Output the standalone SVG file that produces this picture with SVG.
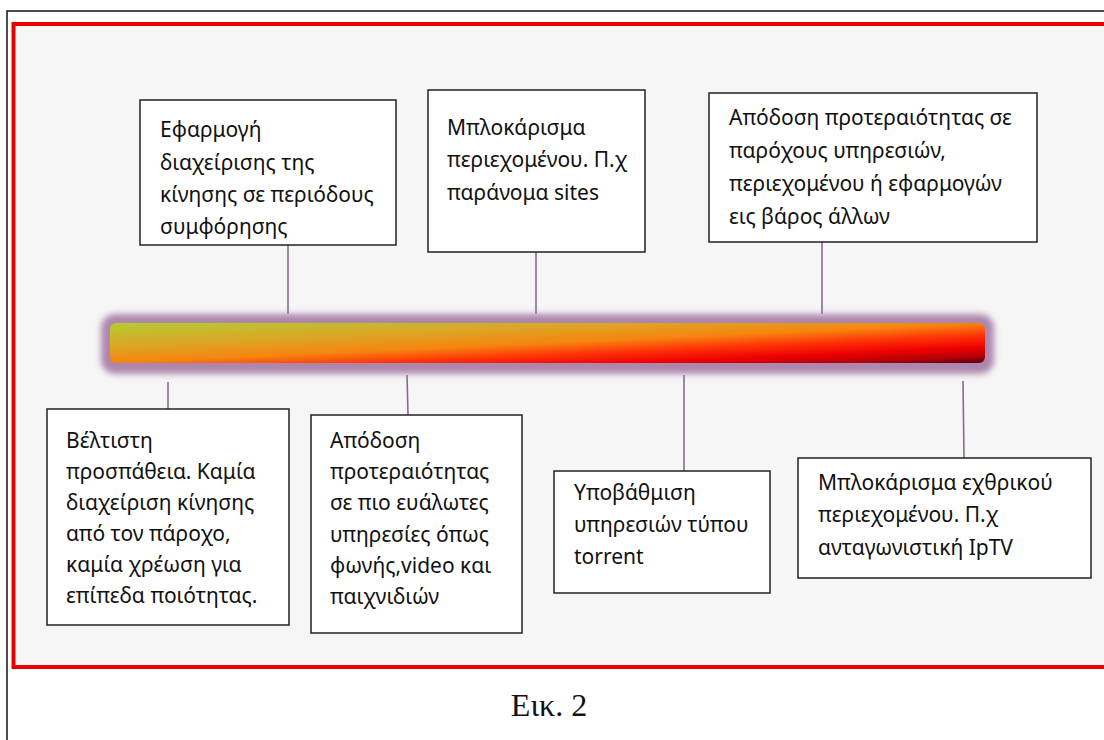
<svg xmlns="http://www.w3.org/2000/svg" width="1104" height="740" viewBox="0 0 1104 740">
<style>
.box{fill:#ffffff;stroke:#222222;stroke-width:1.5}
.t{font-family:"Noto Sans","Open Sans","DejaVu Sans",sans-serif;font-size:21px;fill:#111111}
.cap{font-family:"Liberation Serif","Times New Roman",serif;font-size:32px;fill:#111111}
.conn{stroke:#8c6a8c;stroke-width:1.6;fill:none}
</style>
<defs>
<linearGradient id="bar" x1="0" y1="0" x2="1" y2="1">
<stop offset="0" stop-color="#b4cc30"/>
<stop offset="0.3" stop-color="#dca526"/>
<stop offset="0.5" stop-color="#f6850f"/>
<stop offset="0.65" stop-color="#ff3408"/>
<stop offset="0.8" stop-color="#ee0000"/>
<stop offset="0.92" stop-color="#b00008"/>
<stop offset="1" stop-color="#500010"/>
</linearGradient>
<filter id="glow" x="-5%" y="-50%" width="110%" height="200%">
<feGaussianBlur stdDeviation="3"/>
</filter>
</defs>
<rect x="0" y="0" width="1104" height="740" fill="#ffffff"/>
<rect x="7" y="11" width="1110" height="740" fill="none" stroke="#111111" stroke-width="1.5"/>
<rect x="13.5" y="24" width="1100" height="643" fill="#f6f6f6" stroke="#e80000" stroke-width="4"/>

<g id="connectors">
<line class="conn" x1="288" y1="245" x2="288" y2="314"/>
<line class="conn" x1="536" y1="252" x2="536" y2="314"/>
<line class="conn" x1="822" y1="242" x2="822" y2="314"/>
<line class="conn" x1="168" y1="382" x2="168" y2="409"/>
<line class="conn" x1="407" y1="375" x2="408" y2="415"/>
<line class="conn" x1="684" y1="375" x2="684" y2="471"/>
<line class="conn" x1="963" y1="381" x2="964" y2="458"/>
</g>

<g id="bar-scale">
<rect x="101" y="314" width="893" height="60" rx="14" fill="#ad86ae" filter="url(#glow)"/>
<rect x="110" y="323" width="875" height="40" rx="6" fill="url(#bar)"/>
</g>

<g id="node-congestion">
<rect class="box" x="140" y="100" width="256" height="145"/>
<text class="t"><tspan x="160" y="137">Εφαρμογή</tspan><tspan x="160" y="170">διαχείρισης της</tspan><tspan x="160" y="202">κίνησης σε περιόδους</tspan><tspan x="160" y="234">συμφόρησης</tspan></text>
</g>

<g id="node-block-content">
<rect class="box" x="428" y="90" width="217" height="162"/>
<text class="t"><tspan x="447" y="135">Μπλοκάρισμα</tspan><tspan x="447" y="167">περιεχομένου. Π.χ</tspan><tspan x="447" y="200">παράνομα sites</tspan></text>
</g>

<g id="node-priority-providers">
<rect class="box" x="709" y="93" width="328" height="149"/>
<text class="t"><tspan x="729" y="125">Απόδοση προτεραιότητας σε</tspan><tspan x="729" y="158">παρόχους υπηρεσιών,</tspan><tspan x="729" y="191">περιεχομένου ή εφαρμογών</tspan><tspan x="729" y="224">εις βάρος άλλων</tspan></text>
</g>

<g id="node-best-effort">
<rect class="box" x="47" y="409" width="242" height="216"/>
<text class="t"><tspan x="66" y="448">Βέλτιστη</tspan><tspan x="66" y="479">προσπάθεια. Καμία</tspan><tspan x="66" y="510">διαχείριση κίνησης</tspan><tspan x="66" y="541">από τον πάροχο,</tspan><tspan x="66" y="572">καμία χρέωση για</tspan><tspan x="66" y="603">επίπεδα ποιότητας.</tspan></text>
</g>

<g id="node-priority-sensitive">
<rect class="box" x="311" y="415" width="211" height="218"/>
<text class="t"><tspan x="330" y="448">Απόδοση</tspan><tspan x="330" y="479">προτεραιότητας</tspan><tspan x="330" y="510">σε πιο ευάλωτες</tspan><tspan x="330" y="542">υπηρεσίες όπως</tspan><tspan x="330" y="573">φωνής,video και</tspan><tspan x="330" y="604">παιχνιδιών</tspan></text>
</g>

<g id="node-torrent">
<rect class="box" x="554" y="471" width="216" height="122"/>
<text class="t"><tspan x="574" y="500">Υποβάθμιση</tspan><tspan x="574" y="532">υπηρεσιών τύπου</tspan><tspan x="574" y="564">torrent</tspan></text>
</g>

<g id="node-block-hostile">
<rect class="box" x="798" y="458" width="293" height="120"/>
<text class="t"><tspan x="818" y="490">Μπλοκάρισμα εχθρικού</tspan><tspan x="818" y="522">περιεχομένου. Π.χ</tspan><tspan x="818" y="555">ανταγωνιστική IpTV</tspan></text>
</g>

<text class="cap" x="549" y="716" text-anchor="middle">Εικ. 2</text>
</svg>
